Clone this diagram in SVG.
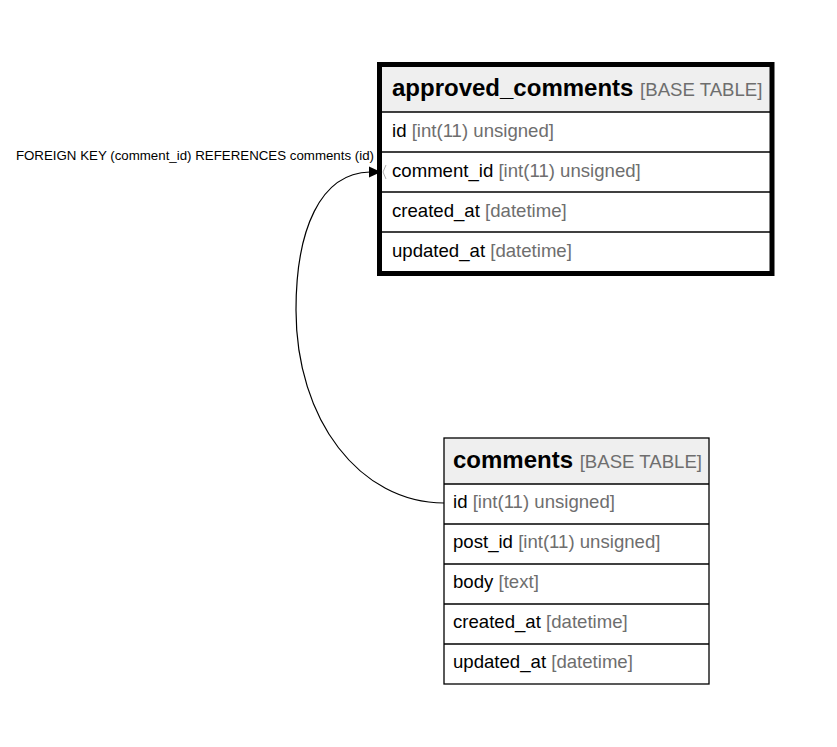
<svg xmlns="http://www.w3.org/2000/svg" width="837" height="747" viewBox="0 0 837 747">
<style>
text{font-family:"Liberation Sans",Arial,sans-serif}
.title{font-size:24px;font-weight:bold;fill:#000}
.tt{font-size:18.6px;fill:#6e6e6e;font-weight:normal}
.row{font-size:18.6px;fill:#000}
.ty{fill:#6e6e6e}
.hdr{fill:#efefef}
.sep{stroke:#000;stroke-width:1.3}
.lbl{font-size:13.3px;fill:#000}
</style>
<rect width="837" height="747" fill="#fff"/>
<g id="connectors">
<path d="M444,503 C360,503 296,420 296,310 C296,230 320,173 370,172" fill="none" stroke="#000" stroke-width="1.2"/>
<path d="M369,166.5 L381,172 L369,177.5 Z" fill="#000"/>
<path d="M386,165 L383,172 L386,179" fill="none" stroke="#999" stroke-width="0.8"/>
<text class="lbl" x="374" y="160" text-anchor="end">FOREIGN KEY (comment_id) REFERENCES comments (id)</text>
</g>
<g id="approved_comments">
<rect class="hdr" x="382" y="67" width="388" height="45"/>
<line class="sep" x1="382" y1="112" x2="770" y2="112"/>
<line class="sep" x1="382" y1="152" x2="770" y2="152"/>
<line class="sep" x1="382" y1="192" x2="770" y2="192"/>
<line class="sep" x1="382" y1="232" x2="770" y2="232"/>
<rect x="379.5" y="64.5" width="392.5" height="209" fill="none" stroke="#000" stroke-width="5"/>
<text class="title" x="392" y="96">approved_comments <tspan class="tt">[BASE TABLE]</tspan></text>
<text class="row" x="392" y="137">id <tspan class="ty">[int(11) unsigned]</tspan></text>
<text class="row" x="392" y="177">comment_id <tspan class="ty">[int(11) unsigned]</tspan></text>
<text class="row" x="392" y="217">created_at <tspan class="ty">[datetime]</tspan></text>
<text class="row" x="392" y="257">updated_at <tspan class="ty">[datetime]</tspan></text>
</g>
<g id="comments">
<rect class="hdr" x="444" y="438" width="265" height="46"/>
<line class="sep" x1="444" y1="484" x2="709" y2="484"/>
<line class="sep" x1="444" y1="524" x2="709" y2="524"/>
<line class="sep" x1="444" y1="564" x2="709" y2="564"/>
<line class="sep" x1="444" y1="604" x2="709" y2="604"/>
<line class="sep" x1="444" y1="644" x2="709" y2="644"/>
<rect x="444" y="438" width="265" height="246" fill="none" stroke="#000" stroke-width="1.3"/>
<text class="title" x="453" y="468">comments <tspan class="tt">[BASE TABLE]</tspan></text>
<text class="row" x="453" y="508">id <tspan class="ty">[int(11) unsigned]</tspan></text>
<text class="row" x="453" y="548">post_id <tspan class="ty">[int(11) unsigned]</tspan></text>
<text class="row" x="453" y="588">body <tspan class="ty">[text]</tspan></text>
<text class="row" x="453" y="628">created_at <tspan class="ty">[datetime]</tspan></text>
<text class="row" x="453" y="668">updated_at <tspan class="ty">[datetime]</tspan></text>
</g>
</svg>
